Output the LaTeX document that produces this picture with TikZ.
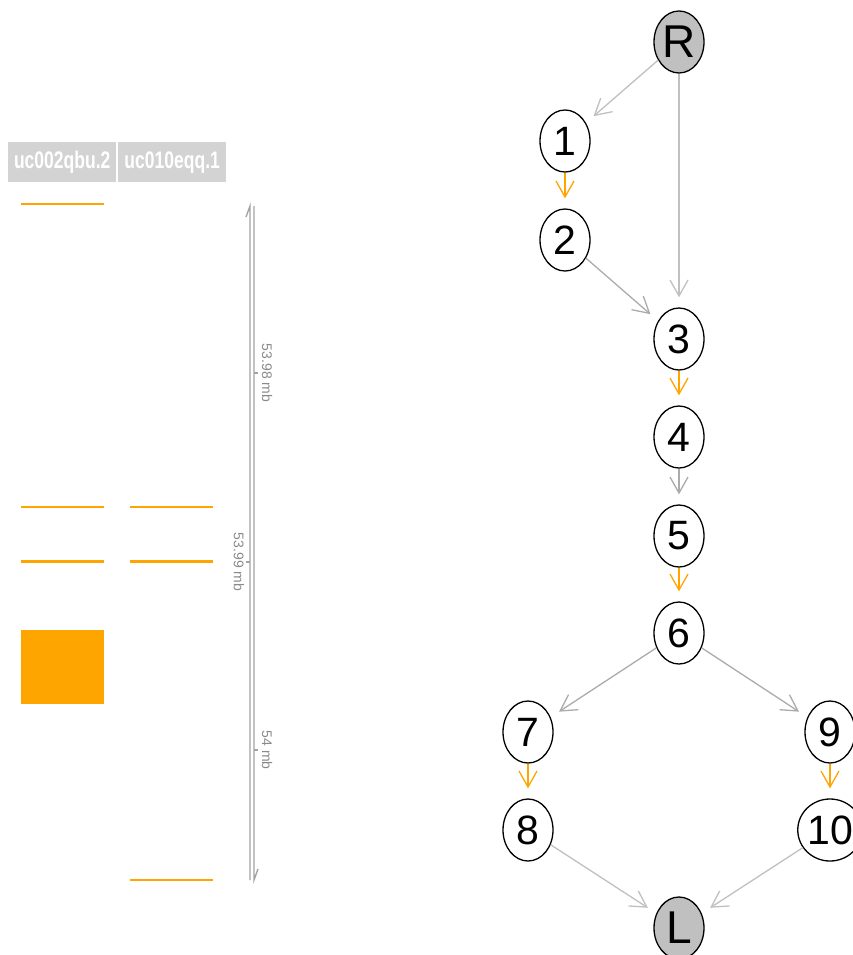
\documentclass[tikz,border=0pt]{standalone}
\usepackage{fontspec}
\setmainfont{Liberation Sans}
\usetikzlibrary{shapes.geometric,arrows.meta}
\definecolor{arancio}{HTML}{FFA500}
\definecolor{grigiochiaro}{HTML}{C0C0C0}
\definecolor{grigioscuro}{HTML}{ABABAB}
\definecolor{intesta}{HTML}{D3D3D3}
\definecolor{asse}{HTML}{A3A3A3}
\definecolor{etich}{HTML}{8A8A8A}

\begin{document}
\begin{tikzpicture}[x=1pt,y=-1pt,
    nodo/.style={ellipse,draw=black,line width=1.3pt,fill=white,minimum width=50pt,minimum height=62pt,inner sep=0pt,font=\fontsize{41}{41}\selectfont},
    estremo/.style={nodo,fill=grigiochiaro,font=\fontsize{46}{46}\selectfont},
    arco/.style={-{Straight Barb[length=16pt,width=18pt]},line width=1.3pt,shorten >=10pt},
    testata/.style={fill=intesta,minimum width=108pt,minimum height=40pt,inner sep=0pt,anchor=north west,text=white,font=\fontsize{24}{24}\selectfont\bfseries},
    tacca/.style={font=\fontsize{14}{14}\selectfont,text=etich,rotate=-90,inner sep=0pt}]
    \useasboundingbox (0,0) rectangle (853,955);

    % intestazioni delle tracce
    \node[testata] (t1) at (8,142) {\scalebox{0.73}[1]{uc002qbu.2}};
    \node[testata] (t2) at (118,142) {\scalebox{0.73}[1]{uc010eqq.1}};

    % prima traccia
    \fill[arancio] (21,203) rectangle (104,205);
    \fill[arancio] (21,506) rectangle (104,508);
    \fill[arancio] (21,560) rectangle (104,563);
    \fill[arancio] (21,630) rectangle (104,704);

    % seconda traccia
    \fill[arancio] (130,506) rectangle (213,508);
    \fill[arancio] (130,560) rectangle (213,563);
    \fill[arancio] (130,879) rectangle (213,881);

    % asse delle coordinate
    \draw[asse,line width=1.4pt] (246,217) -- (250,206) -- (250,880);
    \draw[asse,line width=1.4pt] (254,206) -- (254,880) -- (258,869);
    \draw[asse,line width=1.2pt] (254,373) -- (258,373);
    \draw[asse,line width=1.2pt] (246,562) -- (250,562);
    \draw[asse,line width=1.2pt] (254,750) -- (258,750);
    \node[tacca] (m1) at (267,373) {53.98 mb};
    \node[tacca] (m2) at (239,562) {53.99 mb};
    \node[tacca] (m3) at (267,750) {54 mb};

    % grafo
    \node[estremo] (R) at (679,42) {R};
    \node[nodo] (n1) at (565,141) {1};
    \node[nodo] (n2) at (565,240) {2};
    \node[nodo] (n3) at (679,339) {3};
    \node[nodo] (n4) at (679,437) {4};
    \node[nodo] (n5) at (679,536) {5};
    \node[nodo] (n6) at (679,633) {6};
    \node[nodo] (n7) at (528,732) {7};
    \node[nodo] (n8) at (528,830) {8};
    \node[nodo] (n9) at (830,732) {9};
    \node[nodo] (n10) at (830,830) {10};
    \node[estremo] (L) at (679,928) {L};

    \draw[arco,grigiochiaro] (R) -- (n1);
    \draw[arco,grigiochiaro] (R) -- (n3);
    \draw[arco,arancio] (n1) -- (n2);
    \draw[arco,grigioscuro] (n2) -- (n3);
    \draw[arco,arancio] (n3) -- (n4);
    \draw[arco,grigioscuro] (n4) -- (n5);
    \draw[arco,arancio] (n5) -- (n6);
    \draw[arco,grigioscuro] (n6) -- (n7);
    \draw[arco,grigioscuro] (n6) -- (n9);
    \draw[arco,arancio] (n7) -- (n8);
    \draw[arco,arancio] (n9) -- (n10);
    \draw[arco,grigiochiaro] (n8) -- (L);
    \draw[arco,grigiochiaro] (n10) -- (L);
\end{tikzpicture}
\end{document}
